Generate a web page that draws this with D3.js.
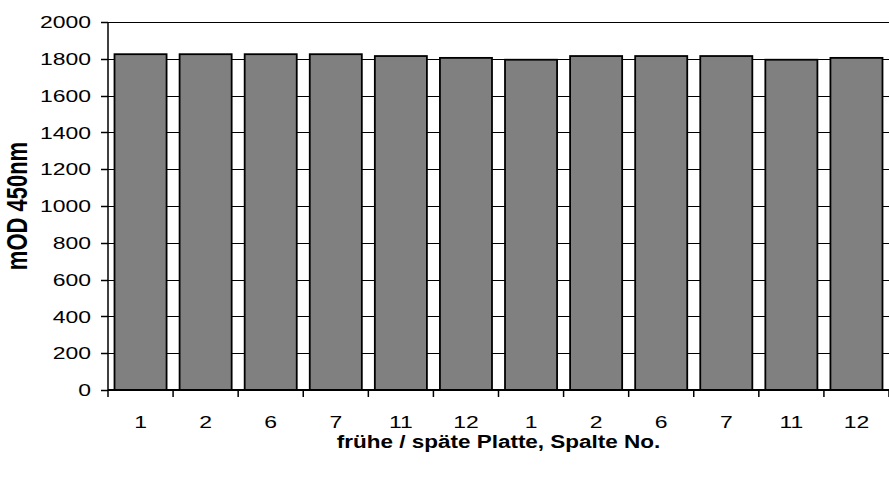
<!DOCTYPE html>
<html>
<head>
<meta charset="utf-8">
<script src="https://cdn.jsdelivr.net/npm/d3@7"></script>
<style>
  body { margin: 0; background: #fff; }
  svg { display: block; font-family: Arial, "Liberation Sans", sans-serif; }
</style>
</head>
<body>
<svg id="chart" width="889" height="477"></svg>
<script>
// Daten
const columns = ['1', '2', '6', '7', '11', '12', '1', '2', '6', '7', '11', '12'];
const values = [1825, 1825, 1825, 1825, 1815, 1805, 1795, 1815, 1815, 1815, 1795, 1805];
const yTicks = [0, 200, 400, 600, 800, 1000, 1200, 1400, 1600, 1800, 2000];
const xTitle = 'frühe / späte Platte, Spalte No.';
const yTitle = 'mOD 450nm';

const WIDTH = 889;
const HEIGHT = 477;
const PADDING_LEFT = 108;
const PADDING_RIGHT = 0;
const PADDING_TOP = 22;
const PADDING_BOTTOM = 87;
const STRETCH = 1.35; // Text im Original horizontal gestreckt

const svg = d3.select('#chart');
const g = svg.append('g');

const idx = d3.range(columns.length);
const x = d3.scaleBand()
    .domain(idx)
    .range([PADDING_LEFT, WIDTH - PADDING_RIGHT])
    .paddingInner(0.2)
    .paddingOuter(0.1);

const y = d3.scaleLinear()
    .domain([0, 2000])
    .range([HEIGHT - PADDING_BOTTOM, PADDING_TOP]);

const step = x.step();
const x0 = PADDING_LEFT;

// Gitterlinien
g.selectAll('line.grid')
    .data(yTicks.filter(d => d > 0))
    .enter().append('line')
    .attr('class', 'grid')
    .attr('x1', x0)
    .attr('x2', WIDTH)
    .attr('y1', d => Math.round(y(d)) + 0.5)
    .attr('y2', d => Math.round(y(d)) + 0.5)
    .attr('stroke', '#000')
    .attr('stroke-width', 1);

// Balken
g.selectAll('rect.bar')
    .data(values)
    .enter().append('rect')
    .attr('class', 'bar')
    .attr('x', (d, i) => x(i))
    .attr('y', d => y(d))
    .attr('width', x.bandwidth())
    .attr('height', d => y(0) - y(d))
    .attr('fill', '#808080')
    .attr('stroke', '#000')
    .attr('stroke-width', 1.8);

// y-Achse
g.append('line')
    .attr('x1', x0).attr('x2', x0)
    .attr('y1', y(2000)).attr('y2', y(0))
    .attr('stroke', '#000').attr('stroke-width', 1.5);

g.selectAll('line.ytick')
    .data(yTicks)
    .enter().append('line')
    .attr('class', 'ytick')
    .attr('x1', x0 - 7).attr('x2', x0)
    .attr('y1', d => Math.round(y(d)) + 0.5)
    .attr('y2', d => Math.round(y(d)) + 0.5)
    .attr('stroke', '#000').attr('stroke-width', 1.5);

g.selectAll('text.ylabel')
    .data(yTicks)
    .enter().append('text')
    .attr('class', 'ylabel')
    .attr('transform', d => `translate(${x0 - 17},${y(d)}) scale(${STRETCH},1)`)
    .attr('dy', '0.36em')
    .attr('text-anchor', 'end')
    .attr('font-size', 17)
    .attr('fill', '#000')
    .text(d => d);

// x-Achse
g.append('line')
    .attr('x1', x0).attr('x2', WIDTH)
    .attr('y1', y(0)).attr('y2', y(0))
    .attr('stroke', '#000').attr('stroke-width', 2);

g.selectAll('line.xtick')
    .data(d3.range(columns.length + 1))
    .enter().append('line')
    .attr('class', 'xtick')
    .attr('x1', i => x0 + i * step)
    .attr('x2', i => x0 + i * step)
    .attr('y1', y(0))
    .attr('y2', y(0) + 7)
    .attr('stroke', '#000').attr('stroke-width', 1.5);

g.selectAll('text.xlabel')
    .data(columns)
    .enter().append('text')
    .attr('class', 'xlabel')
    .attr('transform', (d, i) => `translate(${x(i) + x.bandwidth() / 2},${y(0) + 38}) scale(${STRETCH},1)`)
    .attr('text-anchor', 'middle')
    .attr('font-size', 17)
    .attr('fill', '#000')
    .text(d => d);

// Achsentitel
g.append('text')
    .attr('transform', `translate(${(x0 + WIDTH) / 2},${y(0) + 58}) scale(1.25,1)`)
    .attr('text-anchor', 'middle')
    .attr('font-size', 18)
    .attr('font-weight', 'bold')
    .attr('fill', '#000')
    .text(xTitle);

g.append('text')
    .attr('transform', `translate(27,${(y(0) + y(2000)) / 2}) scale(${STRETCH},1) rotate(-90)`)
    .attr('text-anchor', 'middle')
    .attr('font-size', 22)
    .attr('font-weight', 'bold')
    .attr('fill', '#000')
    .text(yTitle);
</script>
</body>
</html>
